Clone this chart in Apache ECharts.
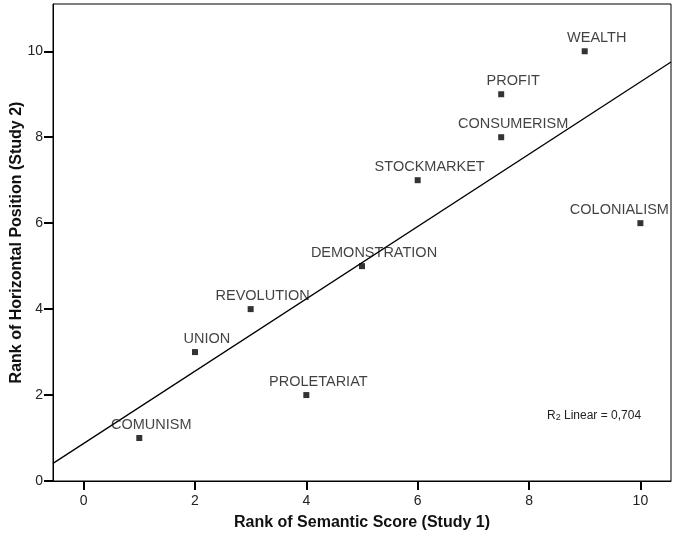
<!DOCTYPE html>
<html>
<head>
<meta charset="utf-8">
<script src="https://cdn.jsdelivr.net/npm/echarts@6/dist/echarts.min.js"></script>
<style>
html, body { margin: 0; padding: 0; background: #fff; }
#main { width: 675px; height: 540px; }
</style>
</head>
<body>
<div id="main"></div>
<script>
var terms = ['COMUNISM', 'UNION', 'REVOLUTION', 'PROLETARIAT', 'DEMONSTRATION', 'STOCKMARKET', 'CONSUMERISM', 'PROFIT', 'WEALTH', 'COLONIALISM'];
var semanticRank = [1, 2, 3, 4, 5, 6, 7.5, 7.5, 9, 10];
var positionRank = [1, 3, 4, 2, 5, 7, 8, 9, 10, 6];
var xTicks = [0, 2, 4, 6, 8, 10];
var yTicks = [0, 2, 4, 6, 8, 10];
var r2Text = '0,704';

var xMin = -0.55, xMax = 10.55, yMax = 11.1;
var font = '"Liberation Sans", Arial, Helvetica, sans-serif';

// least squares fit line (same as the SPSS "Linear" fit)
function linearFit(xs, ys) {
    var n = xs.length, mx = 0, my = 0, sxy = 0, sxx = 0;
    for (var i = 0; i < n; i++) { mx += xs[i] / n; my += ys[i] / n; }
    for (var j = 0; j < n; j++) {
        sxy += (xs[j] - mx) * (ys[j] - my);
        sxx += (xs[j] - mx) * (xs[j] - mx);
    }
    var slope = sxy / sxx;
    return { slope: slope, intercept: my - slope * mx };
}
var fit = linearFit(semanticRank, positionRank);

var points = terms.map(function(name, i) {
    var item = { name: name, value: [semanticRank[i], positionRank[i]] };
    if (name === 'COLONIALISM') { //贴近右边框, 标签左移
        item.label = { offset: [-21, -13] };
    }
    return item;
});

var myChart = echarts.init(document.getElementById('main'));
var option = {
    backgroundColor: '#fff',
    animation: false,
    textStyle: { fontFamily: font },
    grid: {
        left: 53, right: 4, top: 4, bottom: 59,
        outerBoundsMode: 'none',
        containLabel: false,
        show: true,
        borderColor: '#000',
        borderWidth: 1,
        backgroundColor: 'transparent'
    },
    xAxis: {
        type: 'value',
        min: xMin,
        max: xMax,
        name: 'Rank of Semantic Score (Study 1)',
        nameLocation: 'middle',
        nameGap: 34,
        nameMoveOverlap: false,
        nameTextStyle: { fontSize: 16, fontWeight: 'bold', color: '#111', fontFamily: font },
        axisLine: { show: true, onZero: false, lineStyle: { color: '#000', width: 1 } },
        axisTick: { show: true, customValues: xTicks, length: 9, lineStyle: { color: '#000', width: 2 } },
        axisLabel: { customValues: xTicks, fontSize: 14, color: '#222', margin: 13, fontFamily: font },
        splitLine: { show: false }
    },
    yAxis: {
        type: 'value',
        min: 0,
        max: yMax,
        name: 'Rank of Horizontal Position (Study 2)',
        nameLocation: 'middle',
        nameGap: 28,
        nameMoveOverlap: false,
        nameTextStyle: { fontSize: 16, fontWeight: 'bold', color: '#111', fontFamily: font },
        axisLine: { show: true, onZero: false, lineStyle: { color: '#000', width: 1 } },
        axisTick: { show: true, customValues: yTicks, length: 9, lineStyle: { color: '#000', width: 2 } },
        axisLabel: { customValues: yTicks, fontSize: 14, color: '#222', margin: 10, fontFamily: font },
        splitLine: { show: false }
    },
    series: [{
        type: 'line',
        silent: true,
        symbol: 'none',
        lineStyle: { color: '#000', width: 1.3 },
        data: [
            [xMin, fit.intercept + fit.slope * xMin],
            [xMax, fit.intercept + fit.slope * xMax]
        ],
        z: 3
    }, {
        type: 'scatter',
        symbol: 'rect',
        symbolSize: 6,
        itemStyle: { color: '#000' },
        label: {
            show: true,
            formatter: '{b}',
            position: 'inside',
            offset: [12, -13],
            fontSize: 14.5,
            color: '#111',
            fontFamily: font
        },
        data: points,
        z: 4
    }],
    graphic: [{
        type: 'text',
        left: 547,
        top: 410,
        style: {
            text: '{a|R}{b|2}{a| Linear = ' + r2Text + '}',
            rich: {
                a: { fontSize: 12, fill: '#222', fontFamily: font },
                b: { fontSize: 9, fill: '#222', fontFamily: font, padding: [3, 0, 0, 0] }
            }
        }
    }]
};
myChart.setOption(option, true);
</script>
</body>
</html>
